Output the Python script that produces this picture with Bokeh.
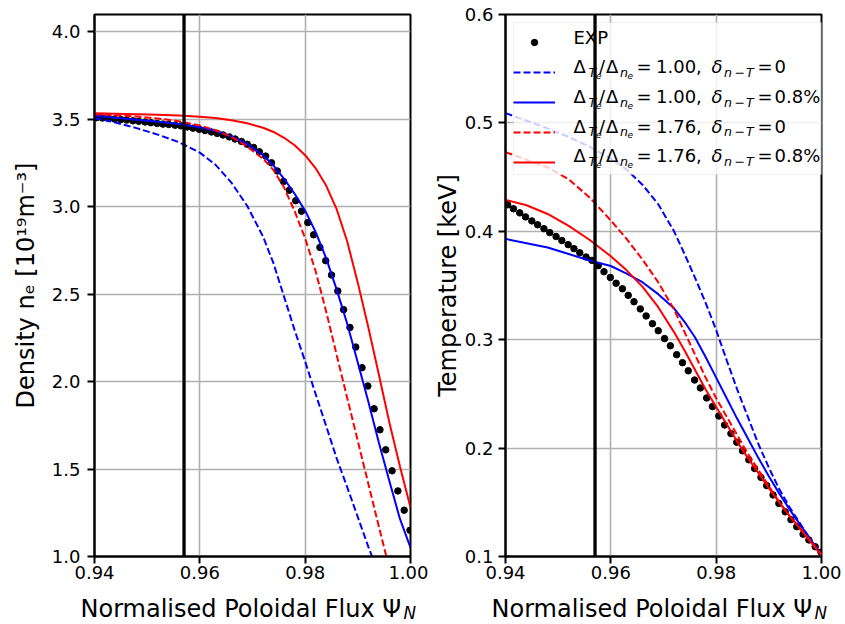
from bokeh.plotting import figure
from bokeh.models import (Range1d, FixedTicker, PrintfTickFormatter, Span, Label,
                          Legend, LegendItem, BoxAnnotation)
from bokeh.layouts import row, column
from bokeh.embed import file_html
from bokeh.resources import INLINE

# ---------------- data ----------------
psi_exp = [0.9404, 0.9415, 0.9427, 0.9438, 0.9450, 0.9461, 0.9473, 0.9484, 0.9496, 0.9507,
           0.9519, 0.9530, 0.9541, 0.9553, 0.9564, 0.9576, 0.9587, 0.9599, 0.9610, 0.9622,
           0.9633, 0.9644, 0.9656, 0.9667, 0.9679, 0.9690, 0.9702, 0.9713, 0.9725, 0.9736,
           0.9747, 0.9759, 0.9770, 0.9782, 0.9793, 0.9805, 0.9816, 0.9828, 0.9839, 0.9850,
           0.9862, 0.9873, 0.9885, 0.9896, 0.9908, 0.9919, 0.9931, 0.9942, 0.9953, 0.9965,
           0.9976, 0.9988, 0.9999]

ne_exp = [3.510, 3.508, 3.505, 3.502, 3.499, 3.496, 3.492, 3.489, 3.485, 3.481,
          3.477, 3.473, 3.471, 3.467, 3.463, 3.457, 3.450, 3.443, 3.436, 3.428,
          3.420, 3.411, 3.400, 3.388, 3.374, 3.358, 3.340, 3.315, 3.290, 3.252,
          3.205, 3.145, 3.095, 3.035, 2.975, 2.910, 2.840, 2.768, 2.692, 2.610,
          2.518, 2.412, 2.310, 2.198, 2.080, 1.975, 1.845, 1.725, 1.610, 1.490,
          1.375, 1.265, 1.150]

te_exp = [0.4245, 0.4208, 0.4170, 0.4133, 0.4096, 0.4060, 0.4024, 0.3988, 0.3952, 0.3915,
          0.3877, 0.3840, 0.3802, 0.3763, 0.3732, 0.3683, 0.3627, 0.3574, 0.3521, 0.3470,
          0.3409, 0.3350, 0.3284, 0.3219, 0.3148, 0.3083, 0.3010, 0.2944, 0.2862, 0.2788,
          0.2713, 0.2628, 0.2555, 0.2463, 0.2383, 0.2296, 0.2213, 0.2134, 0.2054, 0.1975,
          0.1892, 0.1812, 0.1730, 0.1654, 0.1568, 0.1490, 0.1412, 0.1340, 0.1275, 0.1206,
          0.1153, 0.1090, 0.1040]

psi_fit = [0.940, 0.944, 0.948, 0.952, 0.956, 0.960, 0.963, 0.966, 0.969, 0.972, 0.974, 0.976,
           0.978, 0.980, 0.982, 0.984, 0.986, 0.988, 0.990, 0.992, 0.994, 0.996, 0.998, 1.000]

ne_ratio100_d0 = [3.508, 3.482, 3.450, 3.413, 3.370, 3.310, 3.240, 3.138, 3.005, 2.830, 2.676, 2.485,
                  2.295, 2.115, 1.928, 1.745, 1.560, 1.395, 1.225, 1.055, 0.900, 0.750, 0.620, 0.500]
ne_ratio100_d08 = [3.522, 3.510, 3.498, 3.486, 3.474, 3.455, 3.435, 3.403, 3.358, 3.295, 3.235, 3.160,
                   3.075, 2.978, 2.855, 2.705, 2.525, 2.330, 2.108, 1.885, 1.650, 1.430, 1.215, 1.050]
ne_ratio176_d0 = [3.530, 3.524, 3.516, 3.505, 3.490, 3.465, 3.438, 3.400, 3.345, 3.275, 3.210, 3.110,
                  2.975, 2.820, 2.630, 2.400, 2.150, 1.905, 1.660, 1.415, 1.170, 0.930, 0.700, 0.480]
ne_ratio176_d08 = [3.535, 3.533, 3.530, 3.527, 3.522, 3.515, 3.508, 3.495, 3.478, 3.452, 3.428, 3.395,
                   3.352, 3.295, 3.220, 3.120, 2.985, 2.800, 2.565, 2.310, 2.040, 1.765, 1.515, 1.280]

te_ratio100_d0 = [0.509, 0.502, 0.495, 0.487, 0.478, 0.467, 0.457, 0.443, 0.425, 0.400, 0.379, 0.357,
                  0.334, 0.309, 0.281, 0.254, 0.229, 0.204, 0.182, 0.162, 0.145, 0.130, 0.115, 0.101]
te_ratio100_d08 = [0.393, 0.389, 0.385, 0.379, 0.373, 0.368, 0.361, 0.353, 0.342, 0.329, 0.3165, 0.302,
                   0.284, 0.265, 0.246, 0.227, 0.209, 0.191, 0.174, 0.158, 0.143, 0.129, 0.115, 0.102]
te_ratio176_d0 = [0.473, 0.466, 0.459, 0.448, 0.431, 0.410, 0.393, 0.374, 0.353, 0.328, 0.307, 0.286,
                  0.265, 0.246, 0.229, 0.212, 0.195, 0.180, 0.165, 0.150, 0.137, 0.126, 0.114, 0.102]
te_ratio176_d08 = [0.429, 0.424, 0.416, 0.405, 0.392, 0.377, 0.364, 0.349, 0.330, 0.307, 0.290, 0.272,
                   0.254, 0.238, 0.222, 0.206, 0.191, 0.177, 0.163, 0.150, 0.137, 0.125, 0.113, 0.101]

pedestal_psi = 0.957

x_ticks = [0.94, 0.96, 0.98, 1.00]
ne_ticks = [1.0, 1.5, 2.0, 2.5, 3.0, 3.5, 4.0]
te_ticks = [0.1, 0.2, 0.3, 0.4, 0.5, 0.6]

ne_label = "Density n\u2091 [10\u00b9\u2079m\u207b\u00b3]"
te_label = "Temperature [keV]"
legend_rows = [("1.00", "0"), ("1.00", "0.8%"), ("1.76", "0"), ("1.76", "0.8%")]

FONT = "DejaVu Sans"
BLUE = "#0000ff"
RED = "#ff0000"
TOP_H = 590   # plotting row; the x-axis titles live in a strip below
DY = 7        # measured offset of Bokeh's alphabetic baseline


def make_fig(width, bl, br, yr, yticks, ylabel, tick_standoff, ylabel_standoff):
    p = figure(width=width, height=TOP_H, output_backend="svg", toolbar_location=None,
               x_range=Range1d(0.94, 1.0), y_range=Range1d(*yr),
               min_border_left=bl, min_border_right=br, min_border_top=14, min_border_bottom=34)
    p.background_fill_color = "white"
    p.border_fill_color = "white"
    p.outline_line_color = "black"
    p.outline_line_width = 2
    p.xaxis.ticker = FixedTicker(ticks=x_ticks)
    p.yaxis.ticker = FixedTicker(ticks=yticks)
    p.xaxis.formatter = PrintfTickFormatter(format="%.2f")
    p.yaxis.formatter = PrintfTickFormatter(format="%.1f")
    for ax in (p.xaxis, p.yaxis):
        ax.axis_line_width = 2
        ax.axis_line_color = "black"
        ax.major_tick_line_width = 2
        ax.major_tick_line_color = "black"
        ax.major_tick_in = 0
        ax.major_tick_out = 7
        ax.minor_tick_in = 0
        ax.minor_tick_out = 0
        ax.major_label_text_font = FONT
        ax.major_label_text_font_size = "18px"
        ax.major_label_text_color = "black"
    p.xaxis.major_label_standoff = 2
    p.yaxis.major_label_standoff = tick_standoff
    p.yaxis.axis_label = ylabel
    p.yaxis.axis_label_text_font = FONT
    p.yaxis.axis_label_text_font_size = "24px"
    p.yaxis.axis_label_text_font_style = "normal"
    p.yaxis.axis_label_text_color = "black"
    p.yaxis.axis_label_standoff = ylabel_standoff
    p.grid.grid_line_color = "#b0b0b0"
    p.grid.grid_line_width = 1.6
    return p


def text_fig(width, height):
    p = figure(width=width, height=height, output_backend="svg", toolbar_location=None,
               x_range=Range1d(0, 1), y_range=Range1d(0, 1), min_border=0,
               x_axis_location=None, y_axis_location=None)
    p.outline_line_color = None
    p.background_fill_color = "white"
    p.border_fill_color = "white"
    p.grid.visible = False
    return p


def put(p, text, x, y, size, italic=False):
    p.add_layout(Label(x=x, y=y + DY, x_units="screen", y_units="screen", text=text,
                       text_font=FONT, text_font_size=f"{size}px",
                       text_font_style="italic" if italic else "normal",
                       text_color="black", text_align="left", text_baseline="alphabetic",
                       level="overlay"))


def draw_panel(p, yvals_exp, curves):
    rend = {}
    rend["exp"] = p.scatter(psi_exp, yvals_exp, size=6.5, color="black")
    for key, ys, col, dash in curves:
        rend[key] = p.line(psi_fit, ys, line_color=col, line_width=2, line_dash=dash)
    p.add_layout(Span(location=pedestal_psi, dimension="height", line_color="black", line_width=3.3))
    return rend


# ---------------- left: density ----------------
p1 = make_fig(428, 94, 18, (1.0, 4.1), ne_ticks, ne_label, 7, 9)
draw_panel(p1, ne_exp, [("bd", ne_ratio100_d0, BLUE, "7 3"), ("bs", ne_ratio100_d08, BLUE, "solid"),
                        ("rd", ne_ratio176_d0, RED, "7 3"), ("rs", ne_ratio176_d08, RED, "solid")])

# ---------------- right: temperature ----------------
p2 = make_fig(417, 77, 24, (0.1, 0.6), te_ticks, te_label, 5, 0)
r2 = draw_panel(p2, te_exp, [("bd", te_ratio100_d0, BLUE, "7 3"), ("bs", te_ratio100_d08, BLUE, "solid"),
                             ("rd", te_ratio176_d0, RED, "7 3"), ("rs", te_ratio176_d08, RED, "solid")])

# legend frame (semi-transparent, over the curves, under the texts)
p2.add_layout(BoxAnnotation(left=8, right=325, top=534, bottom=382,
                            left_units="screen", right_units="screen",
                            top_units="screen", bottom_units="screen",
                            fill_color="white", fill_alpha=0.8,
                            line_color="#cccccc", line_width=1, level="glyph"))

legend = Legend(items=[LegendItem(label=" ", renderers=[r2[k]]) for k in ("exp", "bd", "bs", "rd", "rs")],
                location=(8, 386), margin=0, padding=6, spacing=14,
                glyph_width=42, glyph_height=16, label_width=252, label_height=16,
                label_standoff=13, label_text_font_size="1px",
                border_line_color=None, background_fill_alpha=0.0)
p2.add_layout(legend)

# legend texts (mathtext-like composition), frame-relative pixels
put(p2, "EXP", 68, 511.7, 18)
for (ratio, delta), base in zip(legend_rows, [482.7, 453.0, 423.3, 393.7]):
    put(p2, "\u0394", 68, base, 18)
    put(p2, "T", 83, base - 5.5, 12.6, italic=True)
    put(p2, "e", 90.5, base - 8.5, 9, italic=True)
    put(p2, "/", 93.5, base, 18)
    put(p2, "\u0394", 100.5, base, 18)
    put(p2, "n", 114.5, base - 5.5, 12.6, italic=True)
    put(p2, "e", 122, base - 8.5, 9, italic=True)
    put(p2, "=", 131, base, 18)
    put(p2, ratio + ",", 150.5, base, 18)
    put(p2, "\u03b4", 206, base, 18, italic=True)
    put(p2, "n", 218.5, base - 5.5, 12.6, italic=True)
    put(p2, "\u2212", 229, base - 5.5, 12.6)
    put(p2, "T", 240.5, base - 5.5, 12.6, italic=True)
    put(p2, "=", 252, base, 18)
    put(p2, delta, 269, base, 18)

# ---------------- x-label strip ----------------
fx = text_fig(845, 624 - TOP_H)
for x0 in (80, 491):
    put(fx, "Normalised Poloidal Flux \u03a8", x0, 9, 24)
    put(fx, "N", x0 + 323, 5, 16.8, italic=True)

layout = column(row(p1, p2), fx)
open("out.html", "w").write(file_html(layout, INLINE))
